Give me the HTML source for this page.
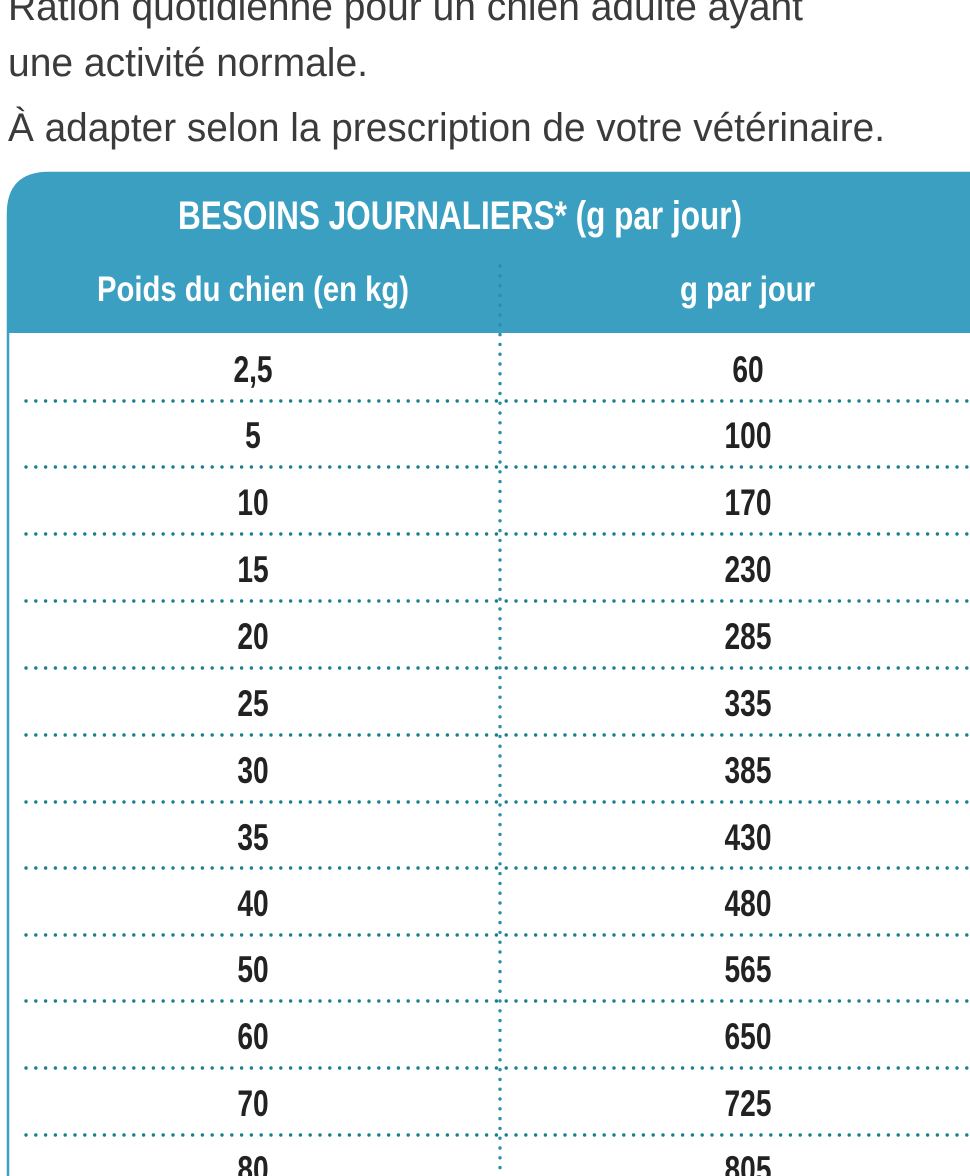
<!DOCTYPE html>
<html><head><meta charset="utf-8"><style>
html,body{margin:0;padding:0;background:#fff;}
svg{display:block;}
text{font-family:"Liberation Sans Narrow","Liberation Sans",sans-serif;}
</style></head><body>
<svg width="970" height="1176" viewBox="0 0 970 1176" xmlns="http://www.w3.org/2000/svg">
<g fill="#3b3b3b" font-size="40">
<text x="8" y="20" textLength="795" lengthAdjust="spacingAndGlyphs">Ration quotidienne pour un chien adulte ayant</text>
<text x="8" y="76" textLength="360" lengthAdjust="spacingAndGlyphs">une activité normale.</text>
<text x="8" y="141" textLength="877" lengthAdjust="spacingAndGlyphs">À adapter selon la prescription de votre vétérinaire.</text>
</g>
<path d="M8,1200 L8,214 Q8,173 49,173 L980,173 L980,1200 Z" fill="#fff" stroke="#3a9fc0" stroke-width="2.5"/>
<path d="M8,333 L8,214 Q8,173 49,173 L980,173 L980,333 Z" fill="#3a9fc0"/>
<g fill="#fff" font-weight="bold">
<text x="178" y="229" font-size="40" textLength="564" lengthAdjust="spacingAndGlyphs">BESOINS JOURNALIERS* (g par jour)</text>
<text x="97" y="301" font-size="35" textLength="312" lengthAdjust="spacingAndGlyphs">Poids du chien (en kg)</text>
<text x="680" y="301" font-size="35" textLength="135" lengthAdjust="spacingAndGlyphs">g par jour</text>
</g>
<g stroke="#17808c" stroke-width="3.4" stroke-linecap="round" stroke-dasharray="0 9.8" fill="none">
<line x1="500" y1="266" x2="500" y2="1176" stroke="#2a8fa8"/>
<line x1="26" y1="401" x2="975" y2="401"/>
<line x1="26" y1="467" x2="975" y2="467"/>
<line x1="26" y1="534" x2="975" y2="534"/>
<line x1="26" y1="601" x2="975" y2="601"/>
<line x1="26" y1="668" x2="975" y2="668"/>
<line x1="26" y1="735" x2="975" y2="735"/>
<line x1="26" y1="802" x2="975" y2="802"/>
<line x1="26" y1="868" x2="975" y2="868"/>
<line x1="26" y1="935" x2="975" y2="935"/>
<line x1="26" y1="1001" x2="975" y2="1001"/>
<line x1="26" y1="1068" x2="975" y2="1068"/>
<line x1="26" y1="1135" x2="975" y2="1135"/>
</g>
<g fill="#222" font-size="37" font-weight="bold" text-anchor="middle">
<text transform="translate(253,382) scale(0.76,1)">2,5</text><text transform="translate(748,382) scale(0.76,1)">60</text>
<text transform="translate(253,448) scale(0.76,1)">5</text><text transform="translate(748,448) scale(0.76,1)">100</text>
<text transform="translate(253,515) scale(0.76,1)">10</text><text transform="translate(748,515) scale(0.76,1)">170</text>
<text transform="translate(253,582) scale(0.76,1)">15</text><text transform="translate(748,582) scale(0.76,1)">230</text>
<text transform="translate(253,649) scale(0.76,1)">20</text><text transform="translate(748,649) scale(0.76,1)">285</text>
<text transform="translate(253,716) scale(0.76,1)">25</text><text transform="translate(748,716) scale(0.76,1)">335</text>
<text transform="translate(253,783) scale(0.76,1)">30</text><text transform="translate(748,783) scale(0.76,1)">385</text>
<text transform="translate(253,850) scale(0.76,1)">35</text><text transform="translate(748,850) scale(0.76,1)">430</text>
<text transform="translate(253,916) scale(0.76,1)">40</text><text transform="translate(748,916) scale(0.76,1)">480</text>
<text transform="translate(253,982) scale(0.76,1)">50</text><text transform="translate(748,982) scale(0.76,1)">565</text>
<text transform="translate(253,1049) scale(0.76,1)">60</text><text transform="translate(748,1049) scale(0.76,1)">650</text>
<text transform="translate(253,1116) scale(0.76,1)">70</text><text transform="translate(748,1116) scale(0.76,1)">725</text>
<text transform="translate(253,1182) scale(0.76,1)">80</text><text transform="translate(748,1182) scale(0.76,1)">805</text>
</g>
</svg>
</body></html>
